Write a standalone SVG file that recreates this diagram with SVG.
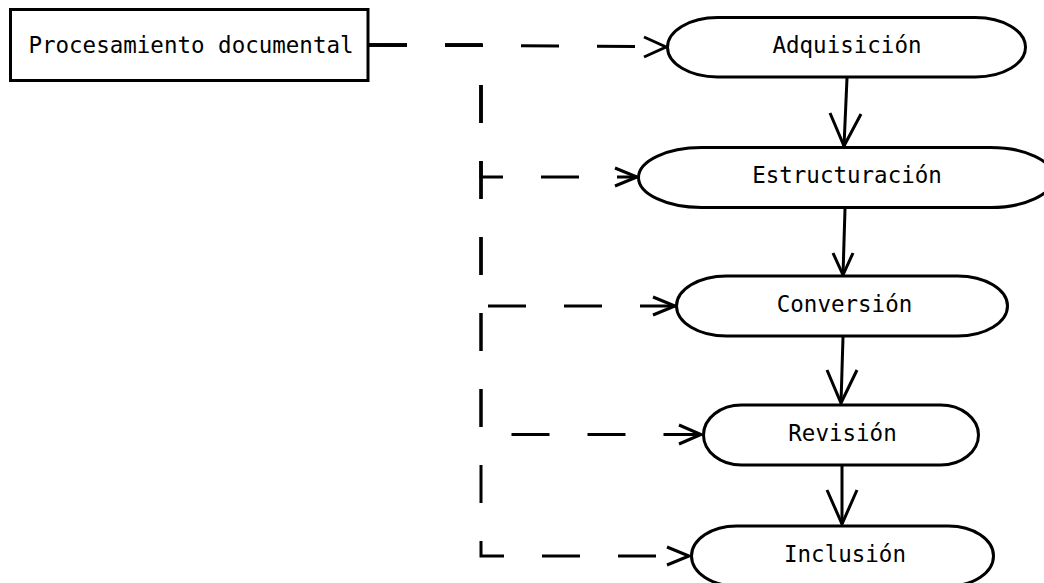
<svg xmlns="http://www.w3.org/2000/svg" width="1044" height="583" viewBox="0 0 1044 583">
<style>
.box{fill:#fff;stroke:#000;stroke-width:3}
.lbl{font-family:"DejaVu Sans Mono","Liberation Mono",monospace;font-size:22.5px;fill:#000;text-anchor:middle}
.solid{fill:none;stroke:#000;stroke-width:3}
.dash{fill:none;stroke:#000;stroke-width:3;stroke-dasharray:38 38}
.head{fill:none;stroke:#000;stroke-width:3;stroke-linejoin:miter}
</style>
<rect width="1044" height="583" fill="#fff"/>
<g id="connectors">
<path class="dash" d="M369,45 L644,46.5"/>
<path class="head" d="M644,37 L666,47 L644,57"/>
<path class="dash" d="M369,45 L481,45 L481,177 L637,177"/>
<path class="head" d="M615,168 L637,177 L615,186"/>
<path class="dash" d="M369,45 L481,45 L481,306 L675,306"/>
<path class="head" d="M653,297 L675,306 L653,315"/>
<path class="dash" d="M369,45 L481,45 L481,434.5 L701,434.5"/>
<path class="head" d="M679,425 L701,434.5 L679,444"/>
<path class="dash" d="M369,45 L481,45 L481,556 L689,556"/>
<path class="head" d="M667,547 L689,556 L667,565"/>
<path class="solid" d="M847,78 L844,146"/>
<path class="head" d="M830,113 L844,146 L861,114"/>
<path class="solid" d="M845,209 L843,275"/>
<path class="head" d="M833,253 L843,275 L853,253"/>
<path class="solid" d="M843,337 L841,403"/>
<path class="head" d="M827,370 L841,403 L857,370"/>
<path class="solid" d="M842,466 L842,524"/>
<path class="head" d="M827,490 L842,524 L857,490"/>
</g>
<g id="procesamiento">
<rect class="box" x="10.5" y="9.5" width="357.5" height="71"/>
<text class="lbl" x="191" y="52.5">Procesamiento documental</text>
</g>
<g id="adquisicion">
<rect class="box" x="667.5" y="17.5" width="358" height="59.5" rx="50" ry="29.75"/>
<text class="lbl" x="847" y="53.3">Adquisición</text>
</g>
<g id="estructuracion">
<rect class="box" x="638.5" y="147.5" width="415" height="60" rx="63" ry="30"/>
<text class="lbl" x="847" y="183.3">Estructuración</text>
</g>
<g id="conversion">
<rect class="box" x="676.5" y="276" width="331" height="60" rx="50" ry="30"/>
<text class="lbl" x="844.5" y="312.3">Conversión</text>
</g>
<g id="revision">
<rect class="box" x="703.5" y="405" width="275" height="60" rx="38" ry="30"/>
<text class="lbl" x="842.5" y="441">Revisión</text>
</g>
<g id="inclusion">
<rect class="box" x="691.5" y="526" width="302" height="60" rx="45" ry="30"/>
<text class="lbl" x="845" y="562">Inclusión</text>
</g>
</svg>
